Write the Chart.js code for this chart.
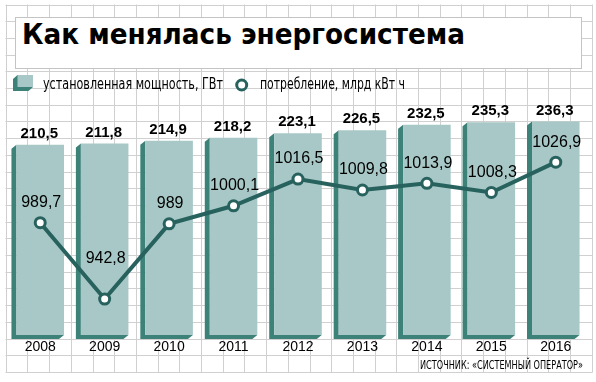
<!DOCTYPE html>
<html><head><meta charset="utf-8">
<script src="https://cdn.jsdelivr.net/npm/chart.js@4/dist/chart.umd.min.js"></script>
<style>
html,body{margin:0;padding:0;background:#fff;}
#wrap{position:relative;width:596px;height:382px;overflow:hidden;}
#c{position:absolute;left:0;top:0;}
.t{position:absolute;white-space:nowrap;line-height:1;transform-origin:0 50%;color:#000;}
#titlebox{position:absolute;left:15px;top:17px;width:567px;height:52px;background:#fff;border:1px solid #c4c4c4;box-sizing:border-box;}
#title{left:22px;top:20.4px;font-family:"DejaVu Sans";font-weight:bold;font-stretch:condensed;font-size:29px;}
.lg{font-family:"Liberation Sans Narrow","DejaVu Sans Condensed","Liberation Sans",sans-serif;font-size:15px;top:76.6px;}
#src{left:420px;top:359.4px;font-family:"Liberation Sans Narrow","DejaVu Sans Condensed","Liberation Sans",sans-serif;font-size:12.5px;}
svg{position:absolute;left:0;top:0;}
</style></head>
<body>
<div id="wrap">
<canvas id="c" width="596" height="382"></canvas>
<div id="titlebox"></div>
<div class="t" id="title">Как менялась энергосистема</div>
<svg width="596" height="382">
  <polygon points="17.5,75 13,79 13,91 28.5,91 33,87 33,75" fill="#3d8279"/>
  <rect x="17.5" y="75" width="15.5" height="12" fill="#a7c8c6"/>
  <circle cx="241.7" cy="85" r="5" fill="#fff" stroke="#27625e" stroke-width="3"/>
</svg>
<div class="t lg" id="lg1" style="left:43px">установленная мощность, ГВт</div>
<div class="t lg" id="lg2" style="left:260px">потребление, млрд кВт ч</div>
<div class="t" id="src">ИСТОЧНИК: «СИСТЕМНЫЙ ОПЕРАТОР»</div>
</div>
<script>
// ---- data ----
const years = ['2008','2009','2010','2011','2012','2013','2014','2015','2016'];
const capacityGW = [210.5, 211.8, 214.9, 218.2, 223.1, 226.5, 232.5, 235.3, 236.3];
const consumptionBkWh = [989.7, 942.8, 989, 1000.1, 1016.5, 1009.8, 1013.9, 1008.3, 1026.9];

function fit(id, w){
  const el=document.getElementById(id);
  const cw=el.getBoundingClientRect().width;
  el.style.transform='scaleX('+(w/cw)+')';
}
fit('title',443); fit('lg1',180); fit('lg2',145); fit('src',163);

const fmt = v => String(v).replace('.', ',');

const gridPlugin = {
  id:'bggrid',
  beforeDraw(chart){
    const ctx=chart.ctx;
    ctx.save();
    ctx.fillStyle='#fff'; ctx.fillRect(0,0,chart.width,chart.height);
    ctx.strokeStyle='#d0d0d0'; ctx.lineWidth=1;
    ctx.beginPath();
    for(let k=0;k<=27;k++){const x=Math.round(5.7+21.7*k)+0.5; ctx.moveTo(x,4.5); ctx.lineTo(x,372.5);}
    for(let k=0;k<=22;k++){const y=Math.round(4.5+16.7*k)+0.5; ctx.moveTo(5.5,y); ctx.lineTo(592.5,y);}
    ctx.stroke();
    ctx.restore();
  }
};

const extrudePlugin = {
  id:'extrude',
  beforeDatasetsDraw(chart){
    const meta=chart.getDatasetMeta(0);
    const ctx=chart.ctx;
    ctx.save(); ctx.fillStyle='#3d8279';
    meta.data.forEach(b=>{
      const p=b.getProps(['x','y','base','width'],true);
      const l=p.x-p.width/2, r=p.x+p.width/2, dx=5, dy=4;
      ctx.beginPath();
      ctx.moveTo(l,p.y); ctx.lineTo(l-dx,p.y+dy); ctx.lineTo(l-dx,p.base+dy);
      ctx.lineTo(r-dx,p.base+dy); ctx.lineTo(r,p.base); ctx.lineTo(l,p.base);
      ctx.closePath(); ctx.fill();
    });
    ctx.restore();
  }
};

const labelPlugin = {
  id:'vlabels',
  afterDatasetsDraw(chart){
    const ctx=chart.ctx;
    ctx.save();
    ctx.textAlign='center'; ctx.textBaseline='middle'; ctx.fillStyle='#000';
    const bm=chart.getDatasetMeta(0);
    ctx.font='bold 15px "Liberation Sans", Arial, sans-serif';
    bm.data.forEach((b,i)=>{ ctx.fillText(fmt(capacityGW[i]), b.x-1, b.y-11); });
    const lm=chart.getDatasetMeta(1);
    ctx.font='16px "Liberation Sans", Arial, sans-serif';
    lm.data.forEach((pt,i)=>{
      const v=consumptionBkWh[i];
      const prev=consumptionBkWh[i-1], next=consumptionBkWh[i+1];
      const isValley = prev!==undefined && next!==undefined && v<prev && v<next && (prev-v)>20;
      ctx.fillText(fmt(v), pt.x+1, pt.y-(isValley?40:20));
    });
    ctx.restore();
  }
};

new Chart(document.getElementById('c'), {
  type:'bar',
  data:{
    labels: years,
    datasets:[
      {type:'bar', label:'установленная мощность, ГВт', data:capacityGW, yAxisID:'y',
       backgroundColor:'#a7c8c6', borderWidth:0, barPercentage:1, categoryPercentage:0.738, order:2},
      {type:'line', label:'потребление, млрд кВт ч', data:consumptionBkWh, yAxisID:'y1',
       borderColor:'#27625e', borderWidth:4, tension:0, pointRadius:5, pointBorderWidth:3,
       pointBackgroundColor:'#fff', pointBorderColor:'#27625e', clip:false, order:1}
    ]
  },
  options:{
    responsive:false, devicePixelRatio:1, animation:false,
    layout:{padding:{left:6,right:4.5,top:100,bottom:0}},
    plugins:{legend:{display:false}, title:{display:false}, tooltip:{enabled:false}},
    scales:{
      x:{grid:{display:false,drawTicks:false}, border:{display:false},
         ticks:{color:'#000', padding:4, font:{family:'"Liberation Sans Narrow", "Liberation Sans", sans-serif', size:14}},
         afterFit(s){ s.height=47; }},
      y:{display:false, min:0, max:260},
      y1:{display:false, min:920.7, max:1065.1}
    }
  },
  plugins:[gridPlugin, extrudePlugin, labelPlugin]
});
</script>
</body></html>
